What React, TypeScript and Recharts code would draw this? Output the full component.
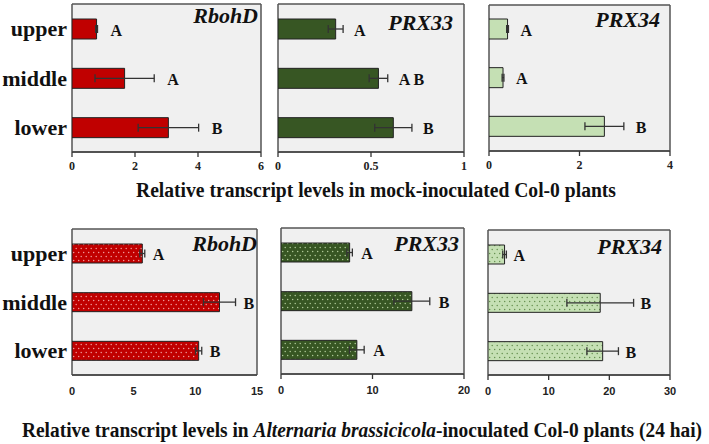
import React from 'react';
import { BarChart, Bar, XAxis, YAxis, CartesianGrid, ErrorBar, LabelList } from 'recharts';

const SERIF = '"Liberation Serif", "Times New Roman", serif';
const SANS = '"Liberation Sans", Arial, sans-serif';

const categories = ['upper', 'middle', 'lower'];

// Mock-inoculated Col-0
const mockRbohD = [0.78, 1.67, 3.06];
const mockRbohDErr = [0.03, 0.94, 0.96];
const mockRbohDLetters = ['A', 'A', 'B'];
const mockPRX33 = [0.31, 0.54, 0.62];
const mockPRX33Err = [0.04, 0.05, 0.1];
const mockPRX33Letters = ['A', 'A B', 'B'];
const mockPRX34 = [0.41, 0.31, 2.55];
const mockPRX34Err = [0.02, 0.02, 0.43];
const mockPRX34Letters = ['A', 'A', 'B'];

// Alternaria brassicicola-inoculated (24 hai)
const altRbohD = [5.7, 11.96, 10.27];
const altRbohDErr = [0.2, 1.3, 0.25];
const altRbohDLetters = ['A', 'B', 'B'];
const altPRX33 = [7.5, 14.3, 8.29];
const altPRX33Err = [0.3, 1.96, 0.8];
const altPRX33Letters = ['A', 'B', 'A'];
const altPRX34 = [2.73, 18.5, 18.9];
const altPRX34Err = [0.3, 5.5, 2.6];
const altPRX34Letters = ['A', 'B', 'B'];

// Axis ticks
const ticksMockRbohD = [0, 2, 4, 6];
const ticksMockPRX33 = [0, 0.5, 1];
const ticksMockPRX34 = [0, 2, 4];
const ticksAltRbohD = [0, 5, 10, 15];
const ticksAltPRX33 = [0, 10, 20];
const ticksAltPRX34 = [0, 10, 20, 30];

const makeRows = (vals: number[], errs: number[], letters: string[]) =>
  categories.map((name, i) => ({ name, value: vals[i], err: errs[i], letter: letters[i] }));

const letterContent = (vals: number[], errs: number[], gap: number) => (props: any) => {
  const vb = props.viewBox && props.viewBox.width != null ? props.viewBox : props;
  const { x, y, width, height } = vb;
  const i = props.index ?? 0;
  const ppu = vals[i] ? width / vals[i] : 0;
  const xe = x + width + (errs[i] || 0) * ppu + gap;
  return (
    <text
      x={xe}
      y={y + height / 2 + 1}
      dominantBaseline="central"
      fontFamily={SERIF}
      fontWeight="bold"
      fontSize={16}
      fill="#111"
    >
      {props.value}
    </text>
  );
};

type Rect = { x: number; y: number; w: number; h: number };

function Panel(p: {
  rect: Rect;
  vals: number[];
  errs: number[];
  letters: string[];
  ticks: number[];
  fill: string;
  showCats: boolean;
  tickFont: any;
  tickLine: boolean;
  tickMargin: number;
  barSize: number;
  gap: number;
  defs?: React.ReactNode;
}) {
  const { rect } = p;
  const yw = p.showCats ? 72 : 0;
  const ml = p.showCats ? 0 : 12;
  const mt = 6;
  const mr = 14;
  const xh = 30;
  const width = ml + yw + rect.w + mr;
  const height = mt + rect.h + xh;
  const data = makeRows(p.vals, p.errs, p.letters);
  const max = p.ticks[p.ticks.length - 1];
  return (
    <div style={{ position: 'absolute', left: rect.x - yw - ml, top: rect.y - mt }}>
      <BarChart
        width={width}
        height={height}
        data={data}
        layout="vertical"
        margin={{ top: mt, right: mr, left: ml, bottom: 0 }}
        barCategoryGap={0}
      >
        {p.defs}
        <CartesianGrid
          fill="#f0f0f0"
          stroke="#555"
          strokeWidth={1.5}
          horizontalCoordinatesGenerator={({ offset }: any) => [offset.top, offset.top + offset.height]}
          verticalCoordinatesGenerator={({ offset }: any) => [offset.left, offset.left + offset.width]}
        />
        <XAxis
          type="number"
          domain={[0, max]}
          ticks={p.ticks}
          interval={0}
          height={xh}
          allowDataOverflow
          tickSize={5}
          tickMargin={p.tickMargin}
          tickLine={p.tickLine ? { stroke: '#333', strokeWidth: 1.3 } : false}
          axisLine={{ stroke: '#444', strokeWidth: 1.5 }}
          tick={{ ...p.tickFont, fill: '#222' }}
        />
        <YAxis
          type="category"
          dataKey="name"
          hide={!p.showCats}
          width={yw}
          tickLine={false}
          axisLine={false}
          tickSize={0}
          tickMargin={5}
          tick={{ fontSize: 22, fontWeight: 'bold', fontFamily: SERIF, fill: '#111' }}
        />
        <Bar
          dataKey="value"
          fill={p.fill}
          stroke="#222"
          strokeWidth={1}
          barSize={p.barSize}
          isAnimationActive={false}
        >
          <ErrorBar dataKey="err" direction="x" width={4} stroke="#333" strokeWidth={1.3} />
          <LabelList dataKey="letter" content={letterContent(p.vals, p.errs, p.gap)} />
        </Bar>
      </BarChart>
    </div>
  );
}

const dotPattern = (id: string, bg: string, dot: string) => (
  <defs>
    <pattern id={id} width={5} height={8} patternUnits="userSpaceOnUse">
      <rect x={0} y={0} width={5} height={8} fill={bg} />
      <circle cx={1.2} cy={1.5} r={0.7} fill={dot} />
      <circle cx={3.7} cy={5.5} r={0.7} fill={dot} />
    </pattern>
  </defs>
);

const RED = '#c00000';
const DGREEN = '#375623';
const LGREEN = '#c5e0b4';

const topTick = { fontSize: 12, fontWeight: 'bold', fontFamily: SERIF };
const botTick = { fontSize: 11, fontWeight: 'bold', fontFamily: SANS };

export default function App() {
  return (
    <div
      style={{
        position: 'absolute',
        left: 0,
        top: 0,
        width: 709,
        height: 444,
        background: '#fff',
        overflow: 'hidden',
      }}
    >
      {/* Mock row */}
      <Panel rect={{ x: 72, y: 4, w: 189, h: 148 }} vals={mockRbohD} errs={mockRbohDErr} letters={mockRbohDLetters}
        ticks={ticksMockRbohD} fill={RED} showCats tickFont={topTick} tickLine tickMargin={4} barSize={20} gap={13} />
      <Panel rect={{ x: 278, y: 4, w: 186, h: 148 }} vals={mockPRX33} errs={mockPRX33Err} letters={mockPRX33Letters}
        ticks={ticksMockPRX33} fill={DGREEN} showCats={false} tickFont={topTick} tickLine tickMargin={4} barSize={20} gap={11} />
      <Panel rect={{ x: 489, y: 5, w: 181, h: 146 }} vals={mockPRX34} errs={mockPRX34Err} letters={mockPRX34Letters}
        ticks={ticksMockPRX34} fill={LGREEN} showCats={false} tickFont={topTick} tickLine tickMargin={4} barSize={20} gap={12} />

      {/* Alternaria row */}
      <Panel rect={{ x: 72, y: 229, w: 185, h: 146 }} vals={altRbohD} errs={altRbohDErr} letters={altRbohDLetters}
        ticks={ticksAltRbohD} fill="url(#dotsRed)" showCats tickFont={botTick} tickLine={false} tickMargin={7} barSize={19} gap={8}
        defs={dotPattern('dotsRed', RED, '#f3a6a6')} />
      <Panel rect={{ x: 281, y: 228, w: 183, h: 146 }} vals={altPRX33} errs={altPRX33Err} letters={altPRX33Letters}
        ticks={ticksAltPRX33} fill="url(#dotsDGreen)" showCats={false} tickFont={botTick} tickLine tickMargin={7} barSize={19} gap={9}
        defs={dotPattern('dotsDGreen', DGREEN, '#b9d3a2')} />
      <Panel rect={{ x: 488, y: 230, w: 182, h: 145 }} vals={altPRX34} errs={altPRX34Err} letters={altPRX34Letters}
        ticks={ticksAltPRX34} fill="url(#dotsLGreen)" showCats={false} tickFont={botTick} tickLine tickMargin={7} barSize={19} gap={7}
        defs={dotPattern('dotsLGreen', LGREEN, '#5f8a48')} />

      <svg
        width={709}
        height={444}
        style={{ position: 'absolute', left: 0, top: 0, pointerEvents: 'none' }}
      >
        <g fontFamily={SERIF} fontWeight="bold" fontStyle="italic" fontSize={22} fill="#111" textAnchor="end">
          <text x={258} y={23}>RbohD</text>
          <text x={453} y={30}>PRX33</text>
          <text x={660} y={27}>PRX34</text>
          <text x={257} y={251}>RbohD</text>
          <text x={459} y={251}>PRX33</text>
          <text x={662} y={254}>PRX34</text>
        </g>
        <text x={136} y={197} fontFamily={SERIF} fontWeight="bold" fontSize={20} fill="#111"
          textLength={480} lengthAdjust="spacingAndGlyphs">
          Relative transcript levels in mock-inoculated Col-0 plants
        </text>
        <text x={22} y={437} fontFamily={SERIF} fontWeight="bold" fontSize={20} fill="#111"
          textLength={680} lengthAdjust="spacingAndGlyphs">
          Relative transcript levels in <tspan fontStyle="italic">Alternaria brassicicola</tspan>-inoculated Col-0 plants (24 hai)
        </text>
      </svg>
    </div>
  );
}
